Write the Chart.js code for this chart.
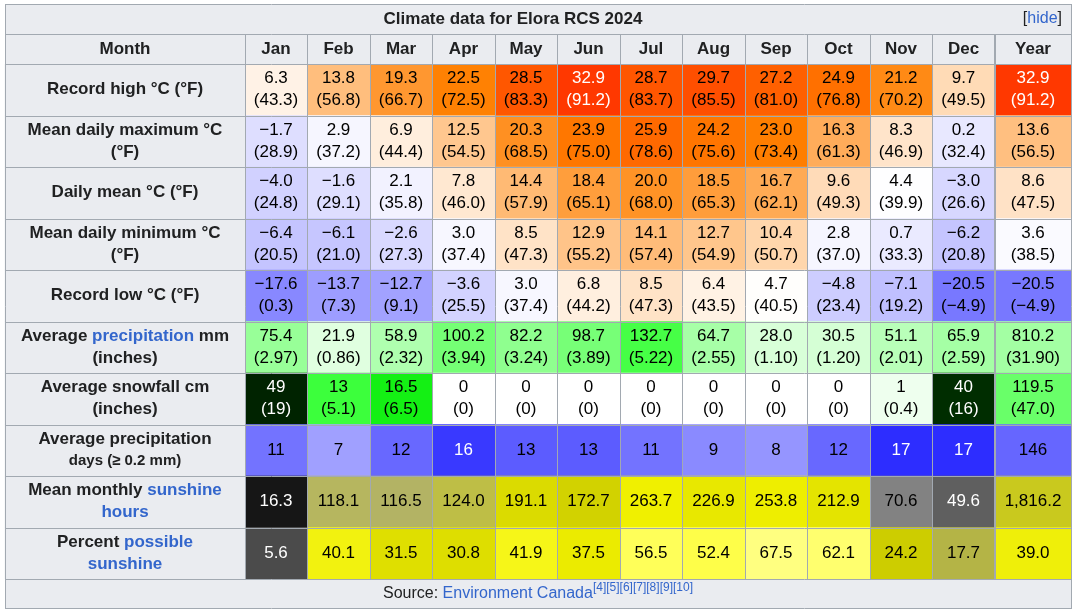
<!DOCTYPE html>
<html><head><meta charset="utf-8">
<script src="https://cdn.jsdelivr.net/npm/chart.js@4/dist/chart.umd.min.js"></script>
<style>html,body{margin:0;padding:0;background:#fff}</style>
</head><body><canvas id="c" width="1077" height="613"></canvas>
<script>
const months = ["Jan","Feb","Mar","Apr","May","Jun","Jul","Aug","Sep","Oct","Nov","Dec","Year"];
const recordHighC = [6.3,13.8,19.3,22.5,28.5,32.9,28.7,29.7,27.2,24.9,21.2,9.7,32.9];
const recordHighF = [43.3,56.8,66.7,72.5,83.3,91.2,83.7,85.5,81.0,76.8,70.2,49.5,91.2];
const meanMaxC = [-1.7,2.9,6.9,12.5,20.3,23.9,25.9,24.2,23.0,16.3,8.3,0.2,13.6];
const meanMaxF = [28.9,37.2,44.4,54.5,68.5,75.0,78.6,75.6,73.4,61.3,46.9,32.4,56.5];
const dailyMeanC = [-4.0,-1.6,2.1,7.8,14.4,18.4,20.0,18.5,16.7,9.6,4.4,-3.0,8.6];
const dailyMeanF = [24.8,29.1,35.8,46.0,57.9,65.1,68.0,65.3,62.1,49.3,39.9,26.6,47.5];
const meanMinC = [-6.4,-6.1,-2.6,3.0,8.5,12.9,14.1,12.7,10.4,2.8,0.7,-6.2,3.6];
const meanMinF = [20.5,21.0,27.3,37.4,47.3,55.2,57.4,54.9,50.7,37.0,33.3,20.8,38.5];
const recordLowC = [-17.6,-13.7,-12.7,-3.6,3.0,6.8,8.5,6.4,4.7,-4.8,-7.1,-20.5,-20.5];
const recordLowF = [0.3,7.3,9.1,25.5,37.4,44.2,47.3,43.5,40.5,23.4,19.2,-4.9,-4.9];
const precipMm = [75.4,21.9,58.9,100.2,82.2,98.7,132.7,64.7,28.0,30.5,51.1,65.9,810.2];
const precipIn = [2.97,0.86,2.32,3.94,3.24,3.89,5.22,2.55,1.10,1.20,2.01,2.59,31.90];
const snowCm = [49,13,16.5,0,0,0,0,0,0,0,1,40,119.5];
const snowIn = ["19","5.1","6.5","0","0","0","0","0","0","0","0.4","16","47.0"];
const precipDays = [11,7,12,16,13,13,11,9,8,12,17,17,146];
const sunHours = [16.3,118.1,116.5,124.0,191.1,172.7,263.7,226.9,253.8,212.9,70.6,49.6,1816.2];
const sunPct = [5.6,40.1,31.5,30.8,41.9,37.5,56.5,52.4,67.5,62.1,24.2,17.7,39.0];

const B = "#3366cc";
const rowLabels = [
  [[["Record high °C (°F)"]]],
  [[["Mean daily maximum °C"]],[["(°F)"]]],
  [[["Daily mean °C (°F)"]]],
  [[["Mean daily minimum °C"]],[["(°F)"]]],
  [[["Record low °C (°F)"]]],
  [[["Average "],["precipitation",B],[" mm"]],[["(inches)"]]],
  [[["Average snowfall cm"]],[["(inches)"]]],
  [[["Average precipitation"]],[["days (≥ 0.2 mm)",null,15]]],
  [[["Mean monthly "],["sunshine",B]],[["hours",B]]],
  [[["Percent "],["possible",B]],[["sunshine",B]]]
];

function fmt(v,d){const s=v.toFixed(d);return v<0?"−"+s.slice(1):s;}
function fmtK(v){return v.toLocaleString("en-US",{minimumFractionDigits:1,maximumFractionDigits:1});}
function tempColor(t){
  if(t<=4.5){const r=Math.max(0,Math.round(255*(t+42.75)/47.25));return [r,r,255];}
  const g=Math.max(0,Math.round(255-7*(t-4.5))), b=Math.max(0,Math.round(255-14*(t-4.5)));
  return [255,g,b];
}
function lerpTable(tab,v){
  if(v<=tab[0][0]) return tab[0].slice(1);
  for(let i=1;i<tab.length;i++){ if(v<=tab[i][0]){const a=tab[i-1],b=tab[i],f=(v-a[0])/(b[0]-a[0]);
    return [0,1,2].map(k=>Math.round(a[k+1]+f*(b[k+1]-a[k+1])));}}
  return tab[tab.length-1].slice(1);
}
const precipTab=[[0,255,255,255],[21.9,224,255,224],[75,153,255,153],[133,70,255,70],[200,0,255,0]];
const snowTab=[[0,255,255,255],[1,238,255,238],[13,60,255,60],[16.5,20,240,20],[40,0,45,0],[49,0,35,0]];
const daysTab=[[0,255,255,255],[7,160,160,255],[11,115,115,255],[13,92,92,255],[17,45,45,255]];
const sunTab=[[0,0,0,0],[16.3,22,22,22],[49.6,95,95,95],[70.6,130,130,130],[117,180,180,100],[124,190,190,70],[172,210,210,0],[212,228,228,0],[260,240,240,0]];
const pctTab=[[0,60,60,60],[5.6,75,75,75],[17.7,180,180,70],[24.2,205,205,0],[31,222,222,0],[37.5,235,235,0],[41,245,245,20],[54,255,255,80],[62,255,255,110],[68,255,255,130]];

const rows = [];
function addRow(top,bot,cols){rows.push({top,bot,cols});}
addRow(recordHighC.map(v=>fmt(v,1)),recordHighF.map(v=>"("+fmt(v,1)+")"),recordHighC.map(tempColor));
addRow(meanMaxC.map(v=>fmt(v,1)),meanMaxF.map(v=>"("+fmt(v,1)+")"),meanMaxC.map(tempColor));
addRow(dailyMeanC.map(v=>fmt(v,1)),dailyMeanF.map(v=>"("+fmt(v,1)+")"),dailyMeanC.map(tempColor));
addRow(meanMinC.map(v=>fmt(v,1)),meanMinF.map(v=>"("+fmt(v,1)+")"),meanMinC.map(tempColor));
addRow(recordLowC.map(v=>fmt(v,1)),recordLowF.map(v=>"("+fmt(v,1)+")"),recordLowC.map(tempColor));
addRow(precipMm.map(v=>fmt(v,1)),precipIn.map(v=>"("+fmt(v,2)+")"),precipMm.map((v,i)=>lerpTable(precipTab,i==12?v/12:v)));
addRow(snowCm.map((v,i)=>(v%1?fmt(v,1):String(v)).replace("119","119")),snowIn.map(s=>"("+s+")"),snowCm.map((v,i)=>lerpTable(snowTab,i==12?v/12:v)));
rows[6].top[12]="119.5";
addRow(precipDays.map(String),null,precipDays.map((v,i)=>lerpTable(daysTab,i==12?v/12:v)));
addRow(sunHours.map(v=>fmtK(v)),null,sunHours.map((v,i)=>lerpTable(sunTab,i==12?v/12:v)));
addRow(sunPct.map(v=>fmt(v,1)),null,sunPct.map(v=>lerpTable(pctTab,v)));

// column layout (in table units)
const colWidths=[240,62,63,62,63,62,63,62,63,62,63,62,63,76];
const edges=[5]; colWidths.forEach(w=>edges.push(edges[edges.length-1]+w));
const rowNames = rowLabels.map((_,i)=>"r"+i);

const datasets = colWidths.map((w,c)=>({
  data: rowNames.map(()=>[edges[c],edges[c+1]]),
  backgroundColor: rowNames.map((_,r)=>{ if(c==0) return "#eaecf0"; const k=rows[r].cols[c-1]; return `rgb(${k[0]},${k[1]},${k[2]})`; }),
  borderWidth:0, barPercentage:1, categoryPercentage:1, grouped:false
}));

const FONT='"Liberation Sans", Arial, sans-serif';
function lum(k){return 0.299*k[0]+0.587*k[1]+0.114*k[2];}
function drawSegs(ctx,segs,cx,y,bold,size){
  ctx.font=(bold?"bold ":"")+size+"px "+FONT;
  let total=0; segs.forEach(s=>{ctx.font=(bold?"bold ":"")+(s[2]||size)+"px "+FONT; total+=ctx.measureText(s[0]).width;});
  let x=cx-total/2; ctx.textAlign="left";
  segs.forEach(s=>{ctx.font=(bold?"bold ":"")+(s[2]||size)+"px "+FONT; ctx.fillStyle=s[1]||"#202122"; ctx.fillText(s[0],x,y); x+=ctx.measureText(s[0]).width;});
}

const tablePlugin={id:"tbl",
  beforeDatasetsDraw(chart){
    const ctx=chart.ctx; ctx.save();
    ctx.fillStyle="#eaecf0"; ctx.fillRect(5,5,1066,59); ctx.fillRect(5,579,1066,29);
    ctx.restore();
  },
  afterDatasetsDraw(chart){
    const ctx=chart.ctx, xs=chart.scales.x, ys=chart.scales.y; ctx.save();
    ctx.textBaseline="middle";
    const px=v=>xs.getPixelForValue(v);
    const top=5, hdrTop=34, bodyTop=ys.getPixelForValue(-0.5)|0, bodyBot=ys.getPixelForValue(9.5)|0;
    // title
    drawSegs(ctx,[["Climate data for Elora RCS 2024"]],513,19,true,17);
    ctx.font="16px "+FONT; ctx.textAlign="right";
    ctx.fillStyle="#202122"; ctx.fillText("]",1062,19);
    const wb=ctx.measureText("]").width; ctx.fillStyle=B; ctx.fillText("hide",1062-wb,19);
    const wh=ctx.measureText("hide").width; ctx.fillStyle="#202122"; ctx.fillText("[",1062-wb-wh,19);
    // header
    drawSegs(ctx,[["Month"]],(px(edges[0])+px(edges[1]))/2,49,true,17);
    months.forEach((m,i)=>drawSegs(ctx,[[m]],(px(edges[i+1])+px(edges[i+2]))/2,49,true,17));
    // cells
    for(let r=0;r<rows.length;r++){
      const yc=ys.getPixelForValue(r);
      const lab=rowLabels[r];
      const lx=(px(edges[0])+px(edges[1]))/2;
      if(lab.length==1) drawSegs(ctx,lab[0],lx,yc,true,17);
      else {drawSegs(ctx,lab[0],lx,yc-11,true,17); drawSegs(ctx,lab[1],lx,yc+11,true,17);}
      for(let c=0;c<13;c++){
        const cx=(px(edges[c+1])+px(edges[c+2]))/2, k=rows[r].cols[c];
        const col=lum(k)<110?"#ffffff":"#000000";
        if(rows[r].bot){drawSegs(ctx,[[rows[r].top[c],col]],cx,yc-11,false,17);drawSegs(ctx,[[rows[r].bot[c],col]],cx,yc+11,false,17);}
        else drawSegs(ctx,[[rows[r].top[c],col]],cx,yc,false,17);
      }
    }
    // grid
    ctx.strokeStyle="#a2a9b1"; ctx.lineWidth=1;
    const hl=y=>{ctx.beginPath();ctx.moveTo(5,y+0.5);ctx.lineTo(1071,y+0.5);ctx.stroke();};
    hl(top-1); hl(hdrTop); for(let r=0;r<=10;r++) hl(Math.round(ys.getPixelForValue(r-0.5))); hl(608);
    edges.forEach((e,i)=>{const x=Math.round(px(e))+0.5; ctx.beginPath();
      if(i==0||i==edges.length-1){ctx.moveTo(x,top-1);ctx.lineTo(x,609);} else {ctx.moveTo(x,hdrTop);ctx.lineTo(x,bodyBot);} ctx.stroke();});
    ctx.lineWidth=2; const xd=Math.round(px(edges[13])); ctx.beginPath(); ctx.moveTo(xd,hdrTop); ctx.lineTo(xd,bodyBot); ctx.stroke();
    // source
    ctx.font="16px "+FONT; const s1="Source: ", s2="Environment Canada"; ctx.font="12px "+FONT; const s3="[4][5][6][7][8][9][10]";
    ctx.font="16px "+FONT; const w1=ctx.measureText(s1).width,w2=ctx.measureText(s2).width; ctx.font="12px "+FONT; const w3=ctx.measureText(s3).width;
    let x=538-(w1+w2+w3)/2; ctx.textAlign="left";
    ctx.font="16px "+FONT; ctx.fillStyle="#202122"; ctx.fillText(s1,x,594); x+=w1;
    ctx.fillStyle=B; ctx.fillText(s2,x,594); x+=w2; ctx.font="12px "+FONT; ctx.fillText(s3,x,588);
    ctx.restore();
  }
};

new Chart(document.getElementById("c"),{
  type:"bar",
  data:{labels:rowNames,datasets},
  options:{indexAxis:"y",responsive:false,animation:false,devicePixelRatio:1,
    layout:{padding:{left:0,right:0,top:64,bottom:34}},
    plugins:{legend:{display:false},tooltip:{enabled:false}},
    scales:{x:{type:"linear",min:0,max:1077,display:false},y:{display:false,stacked:false}}},
  plugins:[tablePlugin]
});
</script></body></html>
